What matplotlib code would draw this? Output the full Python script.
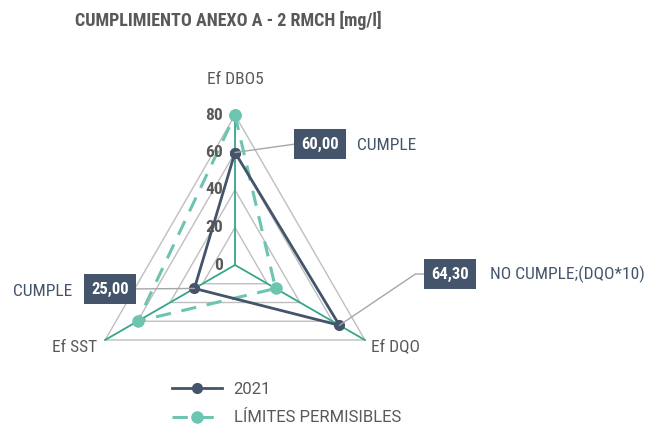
import numpy as np
import matplotlib
matplotlib.use("Agg")
import matplotlib.pyplot as plt
from matplotlib.lines import Line2D

plt.rcParams['font.family'] = ['Roboto Condensed', 'Roboto', 'DejaVu Sans']

# ---- data ----
categories = ["Ef DBO5", "Ef DQO", "Ef SST"]
values_2021 = [60.0, 64.3, 25.0]
limits = [80.0, 25.0, 60.0]
series_names = ["2021", "LÍMITES PERMISIBLES"]
r_ticks = [0, 20, 40, 60, 80]
status = ["CUMPLE", "NO CUMPLE;(DQO*10)", "CUMPLE"]
title = "CUMPLIMIENTO ANEXO A - 2 RMCH [mg/l]"

# ---- style ----
NAVY = "#44546A"
TEAL = "#6CC4B1"
SPOKE = "#35A68C"
GRID = "#BFBFBF"
TXT = "#595959"

W, H = 663, 430
fig = plt.figure(figsize=(W / 100, H / 100), dpi=100)

cx, cy, rad = 235, 265, 150
ax = fig.add_axes([(cx - rad) / W, (H - cy - rad) / H, 2 * rad / W, 2 * rad / H],
                  projection="polar")
ax.set_theta_offset(np.pi / 2)
ax.set_theta_direction(-1)
ax.set_ylim(0, r_ticks[-1])
ax.grid(False)
ax.spines["polar"].set_visible(False)
ax.set_xticks([])
ax.set_yticks([])
ax.patch.set_visible(False)

n = len(categories)
theta = np.arange(n) * 2 * np.pi / n
theta_c = np.append(theta, theta[0])

def closed(v):
    return np.append(v, v[0])

# polygon grid rings
for t in r_ticks[1:]:
    ax.plot(theta_c, [t] * (n + 1), color=GRID, lw=1.0, clip_on=False, zorder=1)

# spokes
for th in theta:
    ax.plot([th, th], [0, r_ticks[-1]], color=SPOKE, lw=1.3, clip_on=False, zorder=2)

# series
ax.plot(theta_c, closed(limits), color=TEAL, lw=2.2, ls=(0, (5, 3.5)),
        marker="o", ms=8, mfc=TEAL, mec=TEAL, clip_on=False, zorder=3)
ax.plot(theta_c, closed(values_2021), color=NAVY, lw=2.0,
        marker="o", ms=7, mfc=NAVY, mec=NAVY, clip_on=False, zorder=4)

# radial tick labels along the top spoke
for t in r_ticks:
    ax.annotate(str(t), xy=(0, t), xytext=(-12, 0), textcoords="offset pixels",
                ha="right", va="center", fontsize=12.5, fontweight="bold",
                color=TXT, annotation_clip=False, zorder=5)

# category labels
cat_offsets = [(0, 36, "center"), (6, -7, "left"), (-8, -7, "right")]
for th, lab, (dx, dy, ha) in zip(theta, categories, cat_offsets):
    ax.annotate(lab, xy=(th, r_ticks[-1]), xytext=(dx, dy), textcoords="offset pixels",
                ha=ha, va="center", fontsize=12.5, color=TXT, annotation_clip=False)

# value call-outs (box centre, leader start on the box, status text position)
box_pos = [(320, H - 144), (450, H - 274), (110, H - 289)]
relpos = [(0, 0.5), (0, 0.5), (1, 0.5)]
conn = ["angle,angleA=0,angleB=8,rad=0", "angle,angleA=0,angleB=34,rad=0", "arc3"]
status_pos = [(357, H - 145, "left"), (490, H - 274, "left"), (72, H - 291, "right")]
for i, v in enumerate(values_2021):
    lab = f"{v:.2f}".replace(".", ",")
    ax.annotate(lab, xy=(theta[i], v), xytext=box_pos[i], textcoords="figure pixels",
                ha="center", va="center", fontsize=12, fontweight="bold", color="white",
                bbox=dict(boxstyle="square,pad=0.45", fc=NAVY, ec="none"),
                arrowprops=dict(arrowstyle="-", color="#A6A6A6", lw=1.0,
                                connectionstyle=conn[i], relpos=relpos[i],
                                shrinkA=0, shrinkB=0),
                annotation_clip=False, zorder=6)
    sx, sy, sha = status_pos[i]
    fig.text(sx / W, sy / H, status[i], ha=sha, va="center", fontsize=12.5, color=NAVY)

# title
fig.text(75 / W, 1 - 20 / H, title, ha="left", va="center", fontsize=13,
         fontweight="bold", color=TXT)

# legend
handles = [
    Line2D([], [], color=NAVY, lw=2.0, marker="o", ms=7, mfc=NAVY, mec=NAVY),
    Line2D([], [], color=TEAL, lw=2.2, ls=(0, (5, 3.5)), marker="o", ms=8, mfc=TEAL, mec=TEAL),
]
fig.legend(handles, series_names, loc="upper left", bbox_to_anchor=(172 / W, 1 - 382 / H),
           frameon=False, handlelength=3.0, handletextpad=0.7,
           labelspacing=0.8, borderpad=0, borderaxespad=0, labelcolor=TXT,
           prop={"family": ["Roboto", "DejaVu Sans"], "size": 12})

fig.savefig("out.png", dpi=100, facecolor="white")
